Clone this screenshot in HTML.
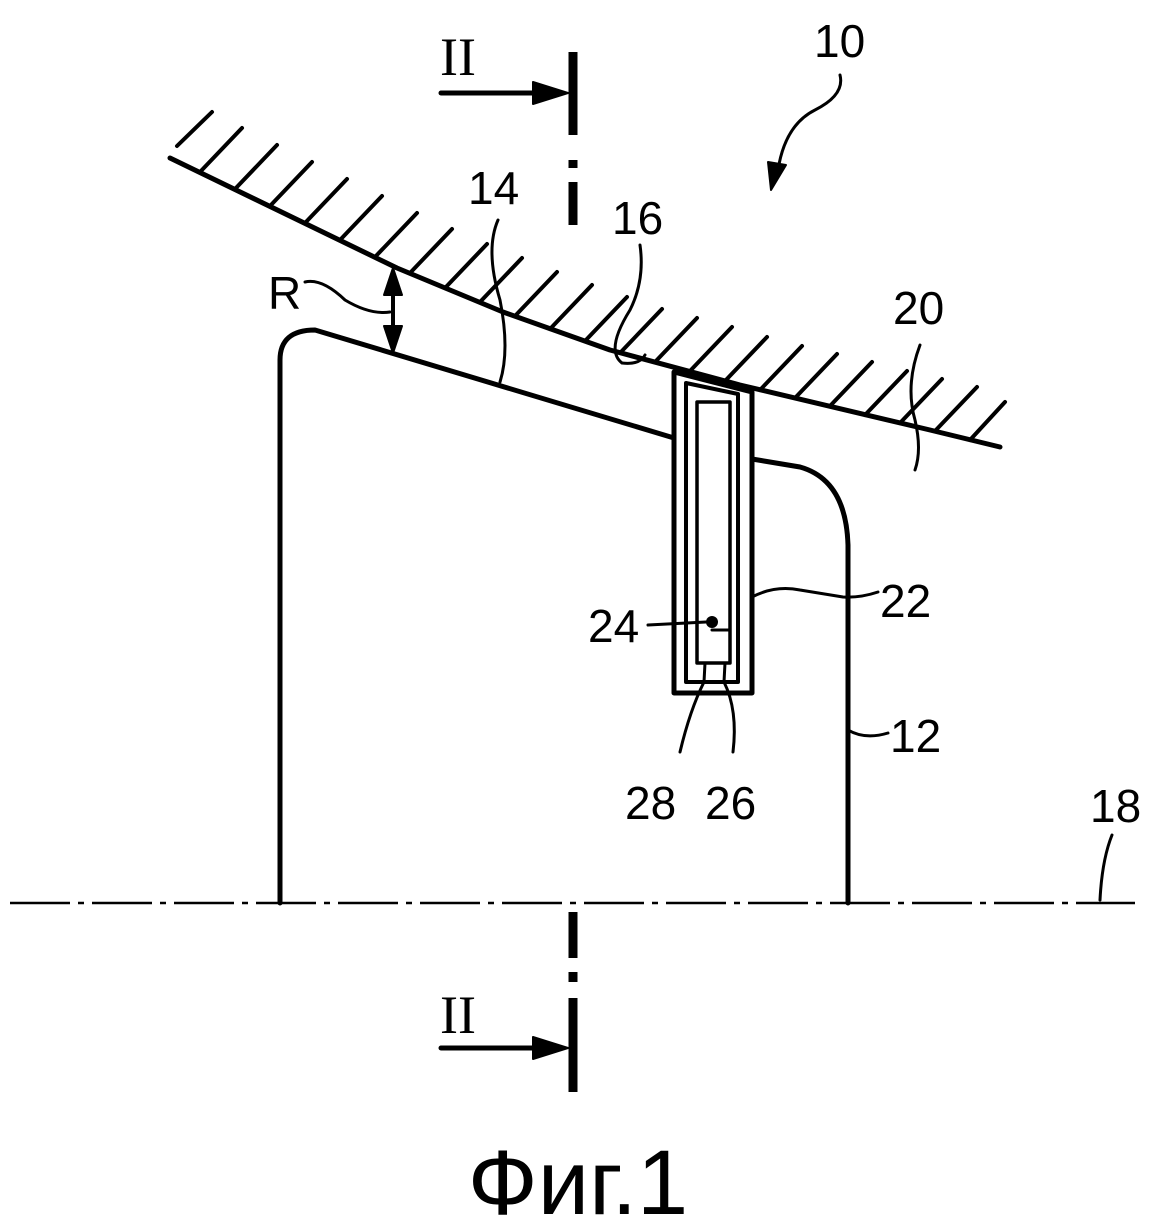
<!DOCTYPE html>
<html><head><meta charset="utf-8"><style>
html,body{margin:0;padding:0;background:#fff;}
svg{display:block;}
text{font-family:"Liberation Sans",sans-serif;fill:#000;}
</style></head><body>
<svg width="1152" height="1229" viewBox="0 0 1152 1229" xmlns="http://www.w3.org/2000/svg">
<g fill="none" stroke="#000" stroke-linecap="round" stroke-linejoin="round">
<path d="M170,158 L397,268 L503,312 L610,350 L740,385 L930,430 L1000,447" stroke-width="5"/>
<g stroke-width="4">
<line x1="177" y1="146" x2="212" y2="112"/>
<line x1="200" y1="172" x2="242" y2="128"/>
<line x1="235" y1="189" x2="277" y2="145"/>
<line x1="270" y1="206" x2="312" y2="162"/>
<line x1="305" y1="223" x2="347" y2="179"/>
<line x1="340" y1="240" x2="382" y2="196"/>
<line x1="375" y1="257" x2="417" y2="213"/>
<line x1="410" y1="273" x2="452" y2="229"/>
<line x1="445" y1="288" x2="487" y2="244"/>
<line x1="480" y1="302" x2="522" y2="258"/>
<line x1="515" y1="316" x2="557" y2="272"/>
<line x1="550" y1="329" x2="592" y2="285"/>
<line x1="585" y1="341" x2="627" y2="297"/>
<line x1="620" y1="353" x2="662" y2="309"/>
<line x1="655" y1="362" x2="697" y2="318"/>
<line x1="690" y1="371" x2="732" y2="327"/>
<line x1="725" y1="381" x2="767" y2="337"/>
<line x1="760" y1="390" x2="802" y2="346"/>
<line x1="795" y1="398" x2="837" y2="354"/>
<line x1="830" y1="406" x2="872" y2="362"/>
<line x1="865" y1="415" x2="907" y2="371"/>
<line x1="900" y1="423" x2="942" y2="379"/>
<line x1="935" y1="431" x2="977" y2="387"/>
<line x1="970" y1="440" x2="1005" y2="402"/>
</g>
<path d="M280,903 L280,360 Q280,330 315,330 L674,438" stroke-width="5"/>
<path d="M752,459 L800,467 Q846,480 848,545 L848,903" stroke-width="5"/>
<path d="M674,372 L752,392 L752,693 L674,693 Z" stroke-width="5" fill="#fff"/>
<path d="M686,383 L738,394 L738,682 L686,682 Z" stroke-width="4"/>
<rect x="697" y="402" width="33" height="261" stroke-width="3.5"/>
<path d="M712,630 L730,630" stroke-width="3"/>
<circle cx="712" cy="622" r="6" fill="#000" stroke="none"/>
<path d="M648,625 L706,622" stroke-width="3"/>
<path d="M705,663 L704,682 Q690,710 680,752" stroke-width="3"/>
<path d="M725,663 L724,682 Q738,710 733,752" stroke-width="3"/>
<path d="M752,597 Q775,585 800,590 L843,597 Q860,598 878,592" stroke-width="3"/>
<path d="M848,730 Q865,740 888,733" stroke-width="3"/>
<path d="M1100,900 Q1102,860 1112,835" stroke-width="3"/>
<path d="M920,345 Q905,385 915,420 Q922,450 915,470" stroke-width="3"/>
<path d="M640,245 Q645,280 630,310 Q605,350 622,363 Q640,365 645,355" stroke-width="3"/>
<path d="M498,220 Q485,250 500,300 Q510,350 500,382" stroke-width="3"/>
<path d="M305,282 Q322,278 345,300 Q370,315 390,312" stroke-width="3"/>
<path d="M393,282 L393,342" stroke-width="4"/>
<path d="M393,268 L384,295 L402,295 Z" fill="#000" stroke-width="2"/>
<path d="M393,353 L384,326 L402,326 Z" fill="#000" stroke-width="2"/>
<path d="M840,75 Q845,95 815,110 Q785,125 778,170" stroke-width="3"/>
<path d="M771,190 L768,162 L786,165 Z" fill="#000" stroke-width="2"/>
<line x1="573" y1="52" x2="573" y2="135" stroke-width="9" stroke-linecap="butt"/>
<line x1="573" y1="160" x2="573" y2="168" stroke-width="9" stroke-linecap="butt"/>
<line x1="573" y1="182" x2="573" y2="225" stroke-width="9" stroke-linecap="butt"/>
<line x1="573" y1="912" x2="573" y2="958" stroke-width="9" stroke-linecap="butt"/>
<line x1="573" y1="972" x2="573" y2="982" stroke-width="9" stroke-linecap="butt"/>
<line x1="573" y1="998" x2="573" y2="1092" stroke-width="9" stroke-linecap="butt"/>
<line x1="441" y1="93" x2="540" y2="93" stroke-width="5"/>
<path d="M568,93 L533,82 L533,104 Z" fill="#000" stroke-width="2"/>
<line x1="441" y1="1048" x2="540" y2="1048" stroke-width="5"/>
<path d="M568,1048 L533,1037 L533,1059 Z" fill="#000" stroke-width="2"/>
<line x1="10" y1="903" x2="1135" y2="903" stroke-width="2.5" stroke-dasharray="60,8,6,8" stroke-linecap="butt"/>
</g>
<g font-size="46">
<text x="440" y="75" font-size="54" style="font-family:'Liberation Serif',serif">II</text>
<text x="440" y="1033" font-size="54" style="font-family:'Liberation Serif',serif">II</text>
<text x="814" y="57">10</text>
<text x="468" y="204">14</text>
<text x="612" y="234">16</text>
<text x="893" y="324">20</text>
<text x="268" y="309">R</text>
<text x="880" y="617">22</text>
<text x="588" y="642">24</text>
<text x="890" y="752">12</text>
<text x="1090" y="822">18</text>
<text x="625" y="819">28</text>
<text x="705" y="819">26</text>
</g>
<text x="578" y="1214" font-size="92" text-anchor="middle">Фиг.1</text>
</svg>
</body></html>
